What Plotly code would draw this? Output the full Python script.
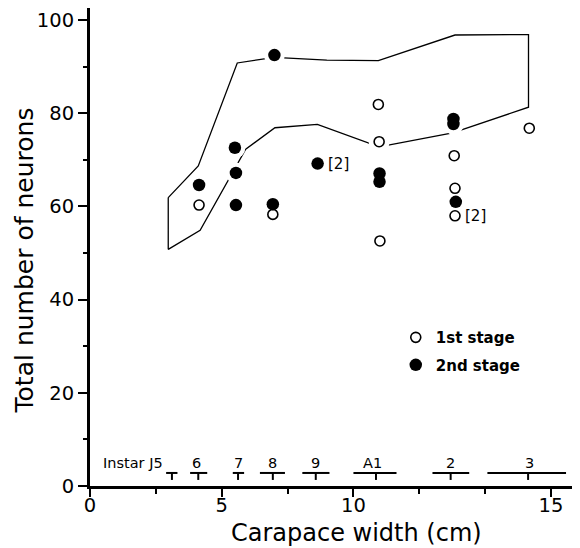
import plotly.graph_objects as go

# ---------------- data (carapace width in cm, as labelled on the axis) -------------
stage1_x = [4.14, 6.94, 10.63, 10.65, 10.67, 12.55, 12.57, 12.57, 14.45]
stage1_y = [60.3, 58.3, 81.9, 73.9, 52.6, 70.9, 63.9, 58.0, 76.8]

stage2_x = [4.14, 5.50, 5.54, 5.54, 6.94, 7.00, 8.64, 10.66, 10.66, 12.53, 12.53, 12.59]
stage2_y = [64.6, 72.6, 67.2, 60.3, 60.5, 92.5, 69.2, 67.1, 65.3, 78.8, 77.7, 61.0]

# envelope (range) polygon
env_x = [2.97, 4.11, 5.59, 7.00, 8.99, 10.63, 12.57, 14.43, 14.43, 12.51, 10.65, 8.63, 7.02, 5.91, 4.18, 2.97, 2.97]
env_y = [61.9, 68.7, 90.8, 92.0, 91.4, 91.3, 96.8, 96.9, 81.3, 75.8, 72.8, 77.6, 76.9, 72.3, 54.9, 50.8, 61.9]

# "[2]" annotations (n = 2 animals)
dup_x = [8.64, 12.57]
dup_y = [69.2, 58.0]
dup_text = ["[2]", "[2]"]

# instar size ranges
instar_names = ["J5", "6", "7", "8", "9", "A1", "2", "3"]
instar_start = [2.89, 3.80, 5.42, 6.45, 8.06, 10.00, 12.00, 13.39]
instar_end = [3.32, 4.45, 5.85, 7.40, 9.09, 11.09, 12.93, 15.38]
instar_mid = [3.11, 4.11, 5.62, 6.94, 8.57, 10.57, 12.46, 14.42]
instar_label_x = [2.85, 4.05, 5.62, 6.94, 8.57, 10.48, 12.46, 14.45]
instar_level = 2.8
instar_tick_low = 1.3
instar_label_y = 5.0

x_tick_labels = [0, 5, 10, 15]
x_minor_cm = [2.5, 7.5, 11.667, 13.333]
y_ticks = [0, 20, 40, 60, 80, 100]
y_minor = [10, 30, 50, 70, 90]


# The original axis is drawn with a compressed scale: beyond 10 cm the spacing
# per cm is 1.5x larger than below 10 cm.
def ax(v):
    if v is None:
        return None
    return v if v <= 10 else 10 + 1.5 * (v - 10)


def axl(vals):
    return [ax(v) for v in vals]


FONT = "DejaVu Sans"
fig = go.Figure()

# envelope line
fig.add_trace(go.Scatter(x=axl(env_x), y=env_y, mode="lines",
                         line=dict(color="black", width=1.3),
                         showlegend=False, hoverinfo="skip"))

# white halo around the points (breaks the envelope line like the original)
fig.add_trace(go.Scatter(x=axl(stage1_x + stage2_x), y=stage1_y + stage2_y, mode="markers",
                         marker=dict(color="white", size=21, line=dict(width=0)),
                         showlegend=False, hoverinfo="skip"))

# instar bars
bx, by = [], []
for s, e, m in zip(instar_start, instar_end, instar_mid):
    bx += [ax(s), ax(e), None, ax(m), ax(m), None]
    by += [instar_level, instar_level, None, instar_level, instar_tick_low, None]
fig.add_trace(go.Scatter(x=bx, y=by, mode="lines", line=dict(color="black", width=2),
                         showlegend=False, hoverinfo="skip", connectgaps=False))

fig.add_trace(go.Scatter(x=axl(stage1_x), y=stage1_y, mode="markers", name="1st stage",
                         legendgroup="a",
                         marker=dict(symbol="circle", size=10, color="white",
                                     line=dict(color="black", width=1.6))))
fig.add_trace(go.Scatter(x=axl(stage2_x), y=stage2_y, mode="markers", name="2nd stage",
                         legendgroup="b",
                         marker=dict(symbol="circle", size=12.5, color="black",
                                     line=dict(color="black", width=0))))

annotations = []
for x, y, t in zip(dup_x, dup_y, dup_text):
    annotations.append(dict(x=ax(x), y=y, text=t, showarrow=False, xanchor="left",
                            yanchor="middle", xshift=8,
                            font=dict(family=FONT, size=15, color="black")))

for i, (name, lx) in enumerate(zip(instar_names, instar_label_x)):
    txt = "Instar " + name if i == 0 else name
    annotations.append(dict(x=ax(lx), y=instar_label_y, text=txt, showarrow=False,
                            xanchor="right" if i == 0 else "center", yanchor="middle",
                            font=dict(family=FONT, size=14.5, color="black")))

# axis titles
annotations.append(dict(xref="paper", yref="paper", x=-0.1327, y=0.4718,
                        text="Total number of neurons", textangle=-90, showarrow=False,
                        xanchor="center", yanchor="middle",
                        font=dict(family=FONT, size=25, color="black")))
annotations.append(dict(xref="paper", yref="paper", x=0.543, y=-0.098,
                        text="Carapace width (cm)", showarrow=False,
                        xanchor="center", yanchor="middle",
                        font=dict(family=FONT, size=24, color="black")))

# the page body has an 8px default margin, so the figure is sized to fit the window
fig.update_layout(
    width=572, height=540,
    margin=dict(l=82, r=0, t=0, b=62, autoexpand=False),
    paper_bgcolor="white", plot_bgcolor="white",
    annotations=annotations,
    legend=dict(x=0.624, y=0.345, xanchor="left", yanchor="top",
                bgcolor="rgba(0,0,0,0)", tracegroupgap=5,
                font=dict(family=FONT, size=15, color="black", weight="bold")),
    xaxis=dict(range=[0, 18.6], showgrid=False, zeroline=False, automargin=False,
               showline=True, linewidth=3, linecolor="black",
               tickmode="array", tickvals=axl(x_tick_labels),
               ticktext=[str(v) for v in x_tick_labels],
               ticks="outside", ticklen=8, tickwidth=2, tickcolor="black",
               ticklabelstandoff=-8,
               tickfont=dict(family=FONT, size=19.5, color="black"),
               minor=dict(tickmode="array", tickvals=axl(x_minor_cm), ticks="outside",
                          ticklen=5, tickwidth=2, tickcolor="black", showgrid=False)),
    yaxis=dict(range=[0, 102.6], showgrid=False, zeroline=False, automargin=False,
               showline=True, linewidth=3, linecolor="black",
               tickmode="array", tickvals=y_ticks,
               ticks="outside", ticklen=9, tickwidth=2, tickcolor="black",
               tickfont=dict(family=FONT, size=19.5, color="black"),
               minor=dict(tickmode="array", tickvals=y_minor, ticks="outside",
                          ticklen=4, tickwidth=2, tickcolor="black", showgrid=False)),
)

fig.write_html("out.html")
